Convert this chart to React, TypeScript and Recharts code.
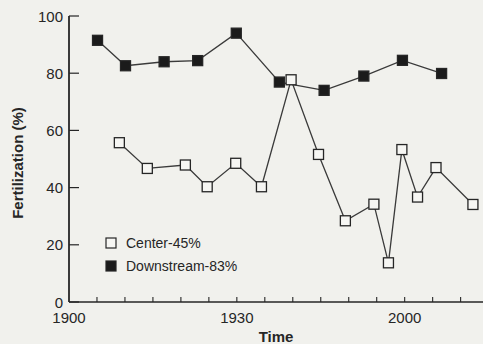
import { LineChart, Line, XAxis, YAxis, Legend, Label } from 'recharts'

const W = 483
const H = 344
const FONT = '"Liberation Sans", Arial, sans-serif'
const INK = '#262626'
const PAPER = '#f1f1ed'

// time in minutes after 19:00
const centerTimes = [9.0, 14.0, 20.8, 24.7, 29.8, 34.4, 39.7, 44.6, 49.4, 54.5, 57.1, 59.5, 62.3, 65.6, 72.2]
const centerValues = [55.7, 46.7, 47.9, 40.3, 48.5, 40.3, 77.7, 51.6, 28.4, 34.2, 13.7, 53.3, 36.7, 47.0, 34.1]
const downstreamTimes = [5.1, 10.1, 17.0, 23.0, 29.9, 37.6, 45.6, 52.7, 59.6, 66.6]
const downstreamValues = [91.5, 82.6, 84.0, 84.4, 94.0, 76.9, 74.0, 79.0, 84.5, 79.9]

const xTicks = [0, 5, 10, 15, 20, 25, 30, 35, 40, 45, 50, 55, 60, 65, 70]
const xTickLabels: Record<number, string> = { 0: '1900', 30: '1930', 60: '2000' }
const yTicks = [0, 20, 40, 60, 80, 100]

const SERIES = [
  { name: 'Center-45%', filled: false },
  { name: 'Downstream-83%', filled: true },
]

const centerData = centerTimes.map((t, i) => ({ t, v: centerValues[i] }))
const downstreamData = downstreamTimes.map((t, i) => ({ t, v: downstreamValues[i] }))

const squareDot = (filled: boolean) => (props: any) => {
  const { cx, cy, index } = props
  if (cx == null || cy == null) return <g key={index} />
  return (
    <rect
      key={index}
      x={cx - 5}
      y={cy - 5}
      width={10}
      height={10}
      fill={filled ? '#1b1b1b' : '#f6f6f3'}
      stroke={INK}
      strokeWidth={1.3}
    />
  )
}

const YTick = (props: any) => {
  const { x, y, payload } = props
  return (
    <g>
      <line x1={x + 6} x2={x + 16} y1={y} y2={y} stroke={INK} strokeWidth={1.2} />
      <text x={x} y={y} textAnchor="end" dominantBaseline="central" fontSize={15} fontFamily={FONT} fill={INK}>
        {payload.value}
      </text>
    </g>
  )
}

const XTick = (props: any) => {
  const { x, y, payload } = props
  const label = xTickLabels[payload.value] ?? ''
  return (
    <g>
      {payload.value !== 0 && (
        <line x1={x} x2={x} y1={y - 10} y2={y - 15} stroke={INK} strokeWidth={1.1} />
      )}
      <text x={x} y={y} dy="0.71em" textAnchor="middle" fontSize={15} fontFamily={FONT} fill={INK}>
        {label}
      </text>
    </g>
  )
}

const LegendBox = () => (
  <div style={{ fontFamily: FONT, fontSize: 14, color: INK }}>
    {SERIES.map((s) => (
      <div key={s.name} style={{ display: 'flex', alignItems: 'center', height: 23 }}>
        <svg width={12} height={12} style={{ display: 'block' }}>
          <rect x={1} y={1} width={10} height={10} fill={s.filled ? '#1b1b1b' : '#f6f6f3'} stroke={INK} strokeWidth={1.2} />
        </svg>
        <span style={{ marginLeft: 9 }}>{s.name}</span>
      </div>
    ))}
  </div>
)

export default function App() {
  return (
    <div style={{ position: 'absolute', left: 0, top: 0, width: W, height: H, background: PAPER, overflow: 'hidden' }}>
      <LineChart width={W} height={H} margin={{ top: 16, right: 0, bottom: 0, left: 0 }}>
        <XAxis
          type="number"
          dataKey="t"
          domain={[0, 74]}
          ticks={xTicks}
          allowDataOverflow
          height={42}
          tickSize={0}
          tickMargin={10}
          tickLine={false}
          tick={<XTick />}
          axisLine={{ stroke: INK, strokeWidth: 1.6 }}
        >
          <Label
            content={({ viewBox }: any) => (
              <text
                x={viewBox.x + viewBox.width / 2}
                y={342}
                textAnchor="middle"
                fontSize={15}
                fontWeight="bold"
                fontFamily={FONT}
                fill={INK}
              >
                Time
              </text>
            )}
          />
        </XAxis>
        <YAxis
          type="number"
          domain={[0, 100]}
          ticks={yTicks}
          width={69}
          tickSize={0}
          tickMargin={6}
          tickLine={false}
          tick={<YTick />}
          axisLine={{ stroke: INK, strokeWidth: 1.8 }}
        >
          <Label
            content={({ viewBox }: any) => {
              const cy = viewBox.y + viewBox.height / 2 + 4
              return (
                <text
                  x={17}
                  y={cy}
                  transform={`rotate(-90 17 ${cy})`}
                  textAnchor="middle"
                  dominantBaseline="central"
                  fontSize={15}
                  fontWeight="bold"
                  fontFamily={FONT}
                  fill={INK}
                >
                  Fertilization (%)
                </text>
              )
            }}
          />
        </YAxis>
        <Legend
          layout="vertical"
          align="center"
          verticalAlign="middle"
          content={<LegendBox />}
          wrapperStyle={{ left: 105, top: 231, width: 'auto' }}
        />
        <Line
          data={downstreamData}
          dataKey="v"
          name="Downstream-83%"
          stroke="#3a3a3a"
          strokeWidth={1.3}
          dot={squareDot(true)}
          activeDot={false}
          isAnimationActive={false}
        />
        <Line
          data={centerData}
          dataKey="v"
          name="Center-45%"
          stroke="#3a3a3a"
          strokeWidth={1.3}
          dot={squareDot(false)}
          activeDot={false}
          isAnimationActive={false}
        />
      </LineChart>
    </div>
  )
}
